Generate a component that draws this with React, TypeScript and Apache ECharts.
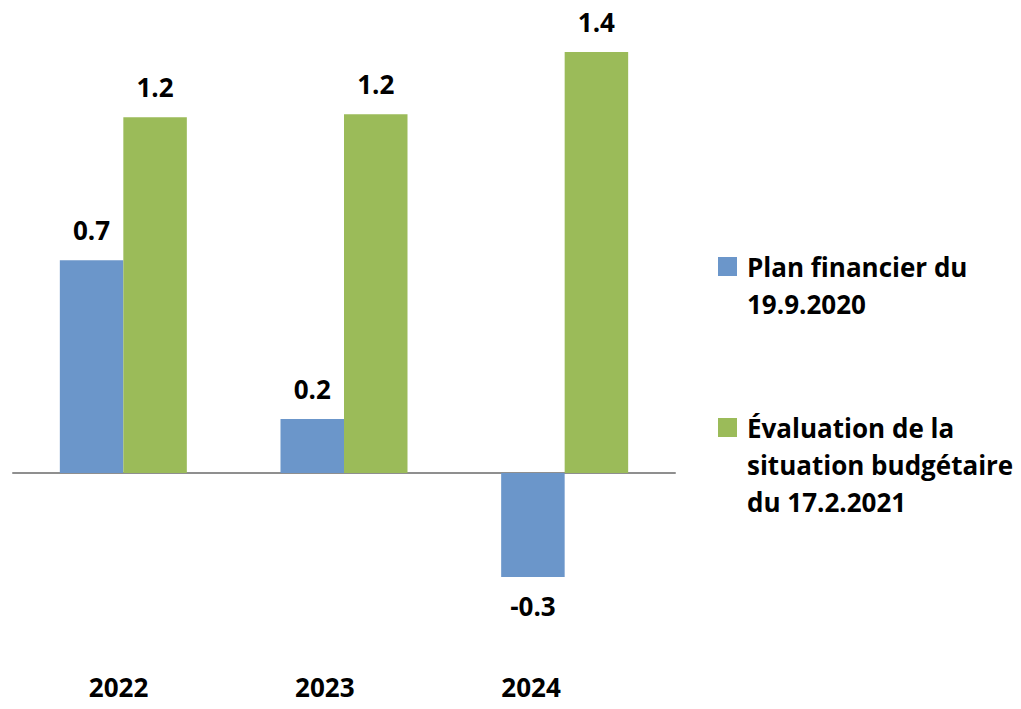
import React, { useEffect, useRef } from "react";
import * as echarts from "echarts";

const categories = ["2022", "2023", "2024"];
const seriesNames = [
  "Plan financier du\n19.9.2020",
  "Évaluation de la\nsituation budgétaire\ndu 17.2.2021",
];
const planValues = [0.7, 0.178, -0.342];
const evalValues = [1.17, 1.18, 1.385];

const FONT = "Open Sans";

export default function App() {
  const ref = useRef<HTMLDivElement>(null);
  useEffect(() => {
    if (!ref.current) return;
    const chart = echarts.init(ref.current, null, { renderer: "svg" });
    const labelStyle = {
      show: true,
      position: "top",
      distance: 17,
      fontFamily: FONT,
      fontWeight: "bold",
      fontSize: 26,
      lineHeight: 26,
      color: "#000",
      formatter: (p: any) => Number(p.value).toFixed(1),
    };
    chart.setOption({
      animation: false,
      backgroundColor: "#fff",
      grid: [
        { left: 13, width: 662, top: 17, height: 638.4 },
        { left: 15.4, width: 618.75, top: 0, height: 670 },
      ],
      xAxis: [
        {
          type: "category",
          gridIndex: 0,
          data: categories,
          axisLine: { show: true, onZero: true, lineStyle: { color: "#8f8f8f", width: 2 } },
          axisTick: { show: false },
          axisLabel: { show: false },
        },
        {
          type: "category",
          gridIndex: 1,
          data: categories,
          axisLine: { show: false },
          axisTick: { show: false },
          axisLabel: {
            show: true,
            margin: 7,
            fontFamily: FONT,
            fontWeight: "bold",
            fontSize: 26,
            lineHeight: 20,
            color: "#000",
          },
        },
      ],
      yAxis: [
        { type: "value", gridIndex: 0, min: -0.6, max: 1.5, show: false, splitLine: { show: false } },
        { type: "value", gridIndex: 1, min: 0, max: 1, show: false, splitLine: { show: false } },
      ],
      legend: {
        orient: "vertical",
        left: 718,
        top: 211,
        padding: 0,
        itemWidth: 19,
        itemHeight: 19,
        itemGap: 13,
        selectedMode: false,
        icon: "rect",
        textStyle: {
          fontFamily: FONT,
          fontWeight: "bold",
          fontSize: 26,
          lineHeight: 37,
          color: "#000",
          rich: {
            t: {
              fontFamily: FONT,
              fontWeight: "bold",
              fontSize: 26,
              lineHeight: 37,
              color: "#000",
              padding: [0, 0, 0, 5],
            },
          },
        },
        formatter: (name: string) => {
          const lines = name.split("\n");
          const blanks = new Array(lines.length - 1).fill("{t| }");
          return blanks.concat(lines.map((l) => `{t|${l}}`)).join("\n");
        },
        data: seriesNames,
      },
      series: [
        {
          name: seriesNames[0],
          type: "bar",
          xAxisIndex: 0,
          yAxisIndex: 0,
          barWidth: 63.5,
          barGap: "0%",
          itemStyle: { color: "#6b96ca" },
          label: labelStyle,
          data: planValues.map((v) =>
            v < 0 ? { value: v, label: { position: "bottom", distance: 16 } } : v
          ),
        },
        {
          name: seriesNames[1],
          type: "bar",
          xAxisIndex: 0,
          yAxisIndex: 0,
          barWidth: 63.5,
          barGap: "0%",
          itemStyle: { color: "#9bbb59" },
          label: labelStyle,
          data: evalValues,
        },
      ],
    });
    return () => chart.dispose();
  }, []);
  return (
    <div
      ref={ref}
      style={{ position: "fixed", left: 0, top: 0, width: 1021, height: 709 }}
    />
  );
}
